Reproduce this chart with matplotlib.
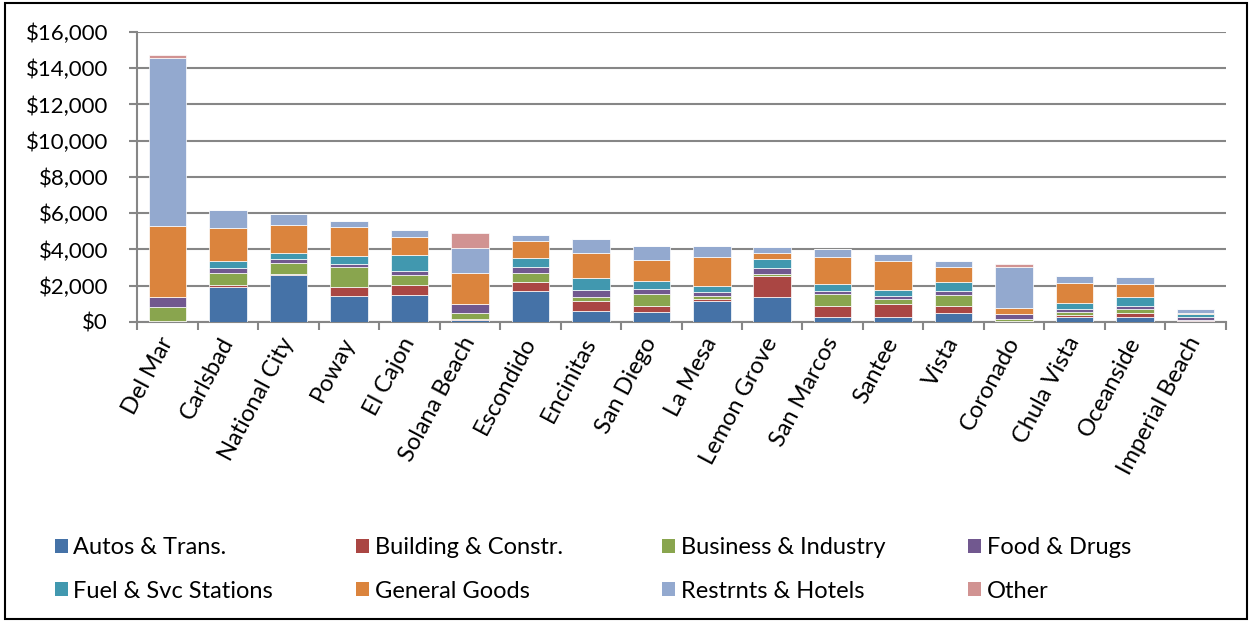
import numpy as np
import matplotlib
matplotlib.use("Agg")
import matplotlib.pyplot as plt
from matplotlib.patches import Rectangle, Patch
from matplotlib.ticker import FuncFormatter

plt.rcParams["font.family"] = ["Lato", "DejaVu Sans"]

cities = ["Del Mar", "Carlsbad", "National City", "Poway", "El Cajon", "Solana Beach",
          "Escondido", "Encinitas", "San Diego", "La Mesa", "Lemon Grove", "San Marcos",
          "Santee", "Vista", "Coronado", "Chula Vista", "Oceanside", "Imperial Beach"]

autos = [20, 1930, 2610, 1435, 1470, 130, 1710, 625, 570, 1160, 1360, 275, 260, 480, 20, 260, 260, 60]
building = [10, 130, 55, 515, 590, 20, 515, 515, 313, 130, 1195, 590, 735, 425, 10, 150, 240, 40]
business = [790, 660, 590, 1085, 515, 370, 480, 220, 660, 150, 110, 660, 260, 605, 110, 150, 200, 30]
food = [550, 260, 220, 150, 260, 460, 313, 405, 295, 200, 330, 185, 200, 200, 295, 150, 200, 150]
fuel = [20, 390, 330, 460, 880, 20, 535, 680, 405, 350, 460, 405, 295, 500, 10, 313, 460, 160]
general = [3900, 1820, 1560, 1580, 990, 1710, 900, 1380, 1160, 1600, 330, 1490, 1600, 845, 330, 1120, 720, 50]
restr = [9300, 975, 610, 370, 350, 1360, 350, 770, 770, 590, 330, 440, 405, 330, 2280, 370, 425, 220]
other = [150, 0, 0, 0, 0, 865, 0, 0, 0, 0, 0, 0, 0, 0, 130, 0, 0, 0]

series_names = ["Autos & Trans.", "Building & Constr.", "Business & Industry", "Food & Drugs",
                "Fuel & Svc Stations", "General Goods", "Restrnts & Hotels", "Other"]
series_values = [autos, building, business, food, fuel, general, restr, other]
colors = ["#4572A7", "#AA4643", "#89A54E", "#71588F", "#4198AF", "#DB843D", "#93A9CF", "#D19392"]

fig = plt.figure(figsize=(12.52, 6.21), dpi=100)
ax = fig.add_axes([0.1097, 0.4815, 0.979 - 0.1097, 0.9485 - 0.4815])

x = np.arange(len(cities))
bottom = np.zeros(len(cities))
for name, vals, color in zip(series_names, series_values, colors):
    vals = np.array(vals, dtype=float)
    ax.bar(x, vals, 0.62, bottom=bottom, color=color, edgecolor="white",
           linewidth=0.5, label=name, zorder=3)
    bottom += vals

ax.set_xlim(-0.5, len(cities) - 0.5)
ax.set_ylim(0, 16000)
ax.set_yticks(np.arange(0, 16001, 2000))
ax.yaxis.set_major_formatter(FuncFormatter(lambda v, p: f"${v:,.0f}"))
ax.grid(axis="y", color="#868686", linewidth=1.5, zorder=0)

# ticks sit between categories, labels at the centres
ax.set_xticks(np.arange(len(cities) + 1) - 0.5)
ax.set_xticklabels([])
ax.set_xticks(x, minor=True)
ax.set_xticklabels(cities, minor=True, rotation=62, ha="right", va="center",
                   rotation_mode="anchor", fontsize=17)
ax.tick_params(axis="x", which="minor", length=0, pad=12)
ax.tick_params(axis="x", which="major", length=6, width=1.5, color="#868686")
ax.tick_params(axis="y", length=6, width=1.5, color="#868686", labelsize=16, pad=15)

for side in ["top", "right"]:
    ax.spines[side].set_visible(False)
for side in ["left", "bottom"]:
    ax.spines[side].set_color("#868686")
    ax.spines[side].set_linewidth(1.5)

# legend: four columns of two entries, placed like the original
col_x = [0.036, 0.277, 0.521, 0.766]
for c in range(4):
    idx = [c, c + 4]
    handles = [Patch(facecolor=colors[i]) for i in idx]
    labels = [series_names[i] for i in idx]
    fig.legend(handles, labels, loc="upper left", bbox_to_anchor=(col_x[c], 0.150),
               bbox_transform=fig.transFigure, frameon=False, fontsize=17,
               handlelength=0.55, handleheight=0.55, handletextpad=0.25,
               labelspacing=0.95, borderaxespad=0)

fig.patches.append(Rectangle((0.004, 0.004), 0.992, 0.991, transform=fig.transFigure,
                             fill=False, edgecolor="black", linewidth=1.5))

fig.savefig("out.png", dpi=100)
